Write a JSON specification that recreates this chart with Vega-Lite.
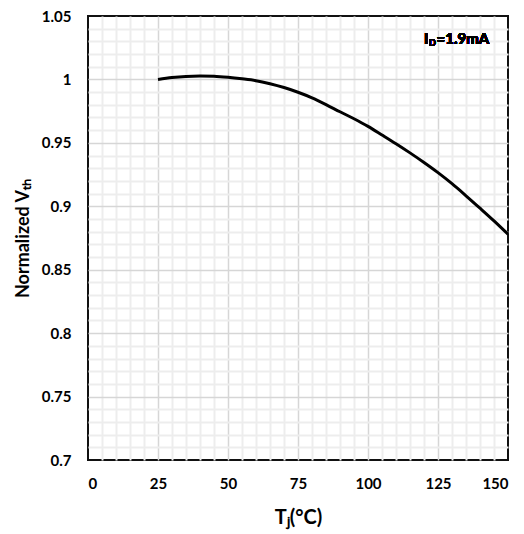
{
  "$schema": "https://vega.github.io/schema/vega-lite/v6.json",
  "width": 420,
  "height": 444,
  "autosize": {"type": "none"},
  "padding": {"left": 88, "top": 16, "right": 16, "bottom": 74},
  "background": "white",
  "config": {
    "view": {"stroke": "#111111", "strokeWidth": 2},
    "font": "Lato",
    "axis": {"labelFont": "Lato", "titleFont": "Lato"}
  },
  "data": {
    "values": [
      {"T": 25, "V": 1.0},
      {"T": 30, "V": 1.0015},
      {"T": 35, "V": 1.0024},
      {"T": 40, "V": 1.0027},
      {"T": 45, "V": 1.0025},
      {"T": 50, "V": 1.0017},
      {"T": 55, "V": 1.0005},
      {"T": 60, "V": 0.999},
      {"T": 65, "V": 0.9966},
      {"T": 70, "V": 0.9936},
      {"T": 75, "V": 0.9899},
      {"T": 80, "V": 0.9855},
      {"T": 85, "V": 0.9802},
      {"T": 90, "V": 0.9745},
      {"T": 95, "V": 0.969},
      {"T": 100, "V": 0.963},
      {"T": 105, "V": 0.9562},
      {"T": 110, "V": 0.9493},
      {"T": 115, "V": 0.9421},
      {"T": 120, "V": 0.9345},
      {"T": 125, "V": 0.9265},
      {"T": 130, "V": 0.9178},
      {"T": 135, "V": 0.9083},
      {"T": 140, "V": 0.8985},
      {"T": 145, "V": 0.8885},
      {"T": 150, "V": 0.878}
    ]
  },
  "layer": [
    {
      "mark": {"type": "line", "strokeOpacity": 0},
      "encoding": {
        "x": {
          "field": "T", "type": "quantitative",
          "scale": {"domain": [0, 150], "nice": false, "zero": false},
          "axis": {
            "orient": "bottom", "title": null, "labels": false, "ticks": false, "domain": false,
            "grid": true, "gridColor": "#ededed", "gridWidth": 2,
            "values": [5, 10, 15, 20, 30, 35, 40, 45, 55, 60, 65, 70, 80, 85, 90, 95, 105, 110, 115, 120, 130, 135, 140, 145]
          }
        },
        "y": {
          "field": "V", "type": "quantitative",
          "scale": {"domain": [0.7, 1.05], "nice": false, "zero": false},
          "axis": {
            "orient": "left", "title": null, "labels": false, "ticks": false, "domain": false,
            "grid": true, "gridColor": "#ededed", "gridWidth": 2,
            "values": [0.71, 0.72, 0.73, 0.74, 0.76, 0.77, 0.78, 0.79, 0.81, 0.82, 0.83, 0.84, 0.86, 0.87, 0.88, 0.89, 0.91, 0.92, 0.93, 0.94, 0.96, 0.97, 0.98, 0.99, 1.01, 1.02, 1.03, 1.04]
          }
        }
      }
    },
    {
      "mark": {"type": "line", "color": "#000000", "strokeWidth": 3, "interpolate": "monotone"},
      "encoding": {
        "x": {
          "field": "T", "type": "quantitative",
          "scale": {"domain": [0, 150], "nice": false, "zero": false},
          "axis": {
            "orient": "bottom", "title": "Tⱼ(°C)", "values": [0, 25, 50, 75, 100, 125, 150],
            "grid": true, "gridWidth": 1.5,
            "gridColor": {"condition": {"test": "datum.value === 0 || datum.value === 150", "value": "transparent"}, "value": "#d6d6d6"},
            "ticks": false, "tickSize": 0, "domain": false,
            "labelFontSize": 15, "labelFontWeight": "bold", "labelColor": "#000000", "labelPadding": 16,
            "titleFontSize": 20, "titleFontWeight": "bold", "titleColor": "#000000", "titlePadding": 16
          }
        },
        "y": {
          "field": "V", "type": "quantitative",
          "scale": {"domain": [0.7, 1.05], "nice": false, "zero": false},
          "axis": {
            "orient": "left", "title": "Normalized Vₜₕ",
            "values": [0.7, 0.75, 0.8, 0.85, 0.9, 0.95, 1, 1.05],
            "labelExpr": "datum.value == 1 ? '1' : format(datum.value, '.2~f')",
            "grid": true, "gridWidth": 1.5,
            "gridColor": {"condition": {"test": "datum.value <= 0.7001 || datum.value >= 1.0499", "value": "transparent"}, "value": "#d6d6d6"},
            "ticks": false, "tickSize": 0, "domain": false,
            "labelFontSize": 15, "labelFontWeight": "bold", "labelColor": "#000000", "labelPadding": 17,
            "titleFontSize": 18, "titleFontWeight": "bold", "titleColor": "#000000", "titlePadding": 9
          }
        }
      }
    },
    {
      "mark": {"type": "text", "text": "I", "align": "left", "baseline": "middle", "fontSize": 15, "fontWeight": "bold", "fill": "#000000"},
      "encoding": {
        "x": {"datum": 120, "type": "quantitative", "axis": null},
        "y": {"datum": 1.0316, "type": "quantitative", "axis": null}
      }
    },
    {
      "mark": {"type": "text", "text": "D", "align": "left", "baseline": "middle", "fontSize": 9, "fontWeight": "bold", "dx": 5, "dy": 4, "fill": "#000000"},
      "encoding": {
        "x": {"datum": 120, "type": "quantitative", "axis": null},
        "y": {"datum": 1.0316, "type": "quantitative", "axis": null}
      }
    },
    {
      "mark": {"type": "text", "text": "=1.9mA", "align": "left", "baseline": "middle", "fontSize": 15, "fontWeight": "bold", "dx": 12.5, "fill": "#000000"},
      "encoding": {
        "x": {"datum": 120, "type": "quantitative", "axis": null},
        "y": {"datum": 1.0316, "type": "quantitative", "axis": null}
      }
    }
  ],
  "resolve": {"axis": {"x": "independent", "y": "independent"}}
}
